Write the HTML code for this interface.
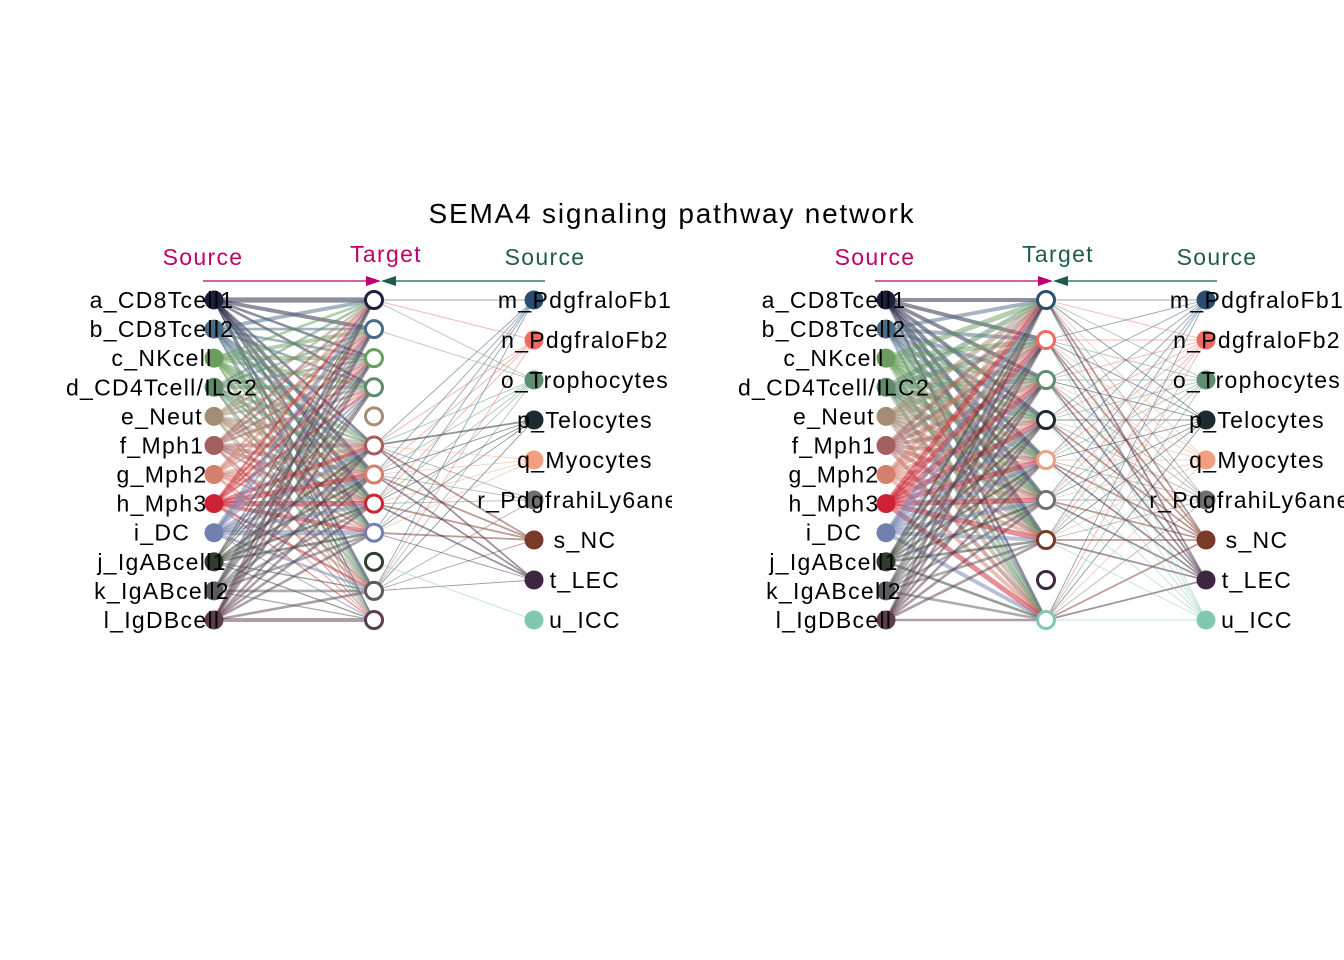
<!DOCTYPE html>
<html><head><meta charset="utf-8"><style>
body{margin:0;background:#fff}
svg{display:block}
text{font-family:"Liberation Sans",Arial,sans-serif}
</style></head><body>
<svg id="chart" width="1344" height="960" viewBox="0 0 1344 960">
<defs><clipPath id="clip"><rect x="0" y="0" width="672" height="960"/></clipPath></defs>
<text x="672" y="223" font-size="28" letter-spacing="1.8" text-anchor="middle">SEMA4 signaling pathway network</text>
<g id="p1" clip-path="url(#clip)"></g>
<g id="p2"></g>
</svg>
<script>
const names=["a_CD8Tcell1","b_CD8Tcell2","c_NKcell","d_CD4Tcell/ILC2","e_Neut","f_Mph1","g_Mph2","h_Mph3","i_DC","j_IgABcell1","k_IgABcell2","l_IgDBcell","m_PdgfraloFb1","n_PdgfraloFb2","o_Trophocytes","p_Telocytes","q_Myocytes","r_PdgfrahiLy6aneg","s_NC","t_LEC","u_ICC"];
const colors=["#1d1f3e","#4a6b84","#6a9e5e","#5e8a6a","#a48d74","#a35e5e","#d4806d","#cc2233","#7180ad","#2f3e2e","#5a5a60","#5c3d50","#2a4d70","#f06a60","#5f8d72","#1e2a32","#f0a080","#707070","#7a3a2a","#3e2640","#80c8b0"];
// Panel 1: targets a..l ; left sources a..l ; right sources m..u
const p1Left=["432202332021","322202322021","233303332021","222302322021","222203332021","222203332021","222203332021","222203443021","322203334021","111102222011","222202222021","222202222023"];
const p1Right=["100001111010","100001110010","110001111010","000002111010","000001111000","000001110010","000002222010","000002221010","000000000100"];
// Panel 2: targets m..u ; left sources a..l ; right sources m..u
const p2Left=["333333302","333333302","444444403","444444403","444444403","333333303","333333303","444444404","333333303","222222202","222222202","222222202"];
const p2Right=["111111101","111111101","111111101","111111101","111111101","111111101","222222202","222222202","111111101"];

const NS="http://www.w3.org/2000/svg";
function el(p,t,a){const e=document.createElementNS(NS,t);for(const k in a)e.setAttribute(k,a[k]);p.appendChild(e);return e;}
function yL(i){return 300+i*(320/11);}
function yR(i){return 300+i*40;}

function panel(g,ox,tIdx,tY,leftM,rightM,targetColor){
  const xs=ox+214,xt=ox+374,xr=ox+534;
  let t=el(g,"text",{x:ox+203,y:265,"font-size":23,"letter-spacing":1.3,fill:"#c0006a","text-anchor":"middle"});t.textContent="Source";
  
  
  t=el(g,"text",{x:ox+386,y:262,"font-size":23,"letter-spacing":1.3,fill:targetColor,"text-anchor":"middle"});t.textContent="Target";
  
  
  t=el(g,"text",{x:ox+545,y:265,"font-size":23,"letter-spacing":1.3,fill:"#1f5a4e","text-anchor":"middle"});t.textContent="Source";
  
  
  el(g,"line",{x1:ox+203,y1:281,x2:ox+370,y2:281,stroke:"#c0006a","stroke-width":1.3});
  el(g,"polygon",{points:`${ox+366},276 ${ox+381},281 ${ox+366},286`,fill:"#c0006a"});
  el(g,"line",{x1:ox+545,y1:281,x2:ox+392,y2:281,stroke:"#1f5a4e","stroke-width":1.3});
  el(g,"polygon",{points:`${ox+396},276 ${ox+381},281 ${ox+396},286`,fill:"#1f5a4e"});
  leftM.forEach((row,i)=>{[...row].forEach((w,j)=>{w=+w;if(!w)return;
    const e=el(g,"line",{x1:xs,y1:yL(i),x2:xt,y2:tY(j),stroke:colors[i],"stroke-opacity":0.5,"stroke-width":w*1.3});
    
    });});
  rightM.forEach((row,i)=>{[...row].forEach((w,j)=>{w=+w;if(!w)return;
    const e=el(g,"line",{x1:xr,y1:yR(i),x2:xt,y2:tY(j),stroke:colors[12+i],"stroke-opacity":0.5,"stroke-width":w*0.9});
    
    });});
  for(let i=0;i<12;i++){
    const c=el(g,"circle",{cx:xs,cy:yL(i),r:9.5,fill:colors[i]});
    
    
    const tx=el(g,"text",{x:ox+162,y:yL(i)+8,"font-size":23,"letter-spacing":1.3,"text-anchor":"middle"});tx.textContent=names[i];
    
    
  }
  for(let i=0;i<9;i++){
    const c=el(g,"circle",{cx:xr,cy:yR(i),r:9.5,fill:colors[12+i]});
    
    
    const tx=el(g,"text",{x:ox+585,y:yR(i)+8,"font-size":23,"letter-spacing":1.3,"text-anchor":"middle"});tx.textContent=names[12+i];
    
    
  }
  tIdx.forEach((k,j)=>{
    const c=el(g,"circle",{cx:xt,cy:tY(j),r:8.5,fill:"#fff",stroke:colors[k],"stroke-width":3});
    
    
  });
}
panel(document.getElementById("p1"),0,[0,1,2,3,4,5,6,7,8,9,10,11],yL,p1Left,p1Right,"#c0006a");
panel(document.getElementById("p2"),672,[12,13,14,15,16,17,18,19,20],yR,p2Left,p2Right,"#1f5a4e");
</script>
</body></html>
